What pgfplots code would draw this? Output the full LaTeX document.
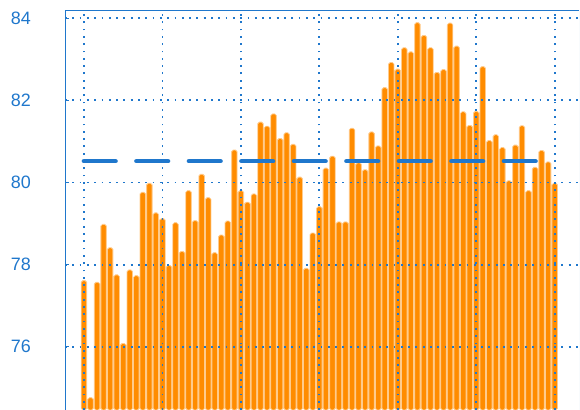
\documentclass[border=0pt]{standalone}
\usepackage{pgfplots}
\pgfplotsset{compat=1.18}
\usepackage{fontspec}
\setmainfont{Liberation Sans}
\definecolor{cblue}{RGB}{31,119,204}
\definecolor{corange}{RGB}{255,140,0}
\begin{document}
\begin{tikzpicture}
\begin{axis}[
  at={(0,0)}, anchor=north west,
  scale only axis, width=514bp, height=400bp,
  xmin=-2.905, xmax=75.72, ymin=74.46, ymax=84.2,
  set layers, axis on top,
  axis line style={draw=none},
  xtick={0,12,...,72}, xticklabels={},
  xtick style={draw=none},
  ytick={76,78,80,82,84}, ytick pos=left,
  ytick style={draw=cblue, line width=1.2bp},
  major tick length=4bp,
  tick align=inside,
  grid=major,
  major grid style={draw=cblue, line width=1.8bp, dash pattern=on 1.8bp off 5.5bp, line cap=butt},
  /pgf/number format/assume math mode=true,
  yticklabel style={font=\fontsize{18}{18}\selectfont, text=cblue, inner sep=0pt, anchor=east, xshift=-34bp},
]
\addplot[ybar, bar width=0.84, fill=corange, draw=corange!45!white, line width=0.8bp, rounded corners=1.6bp] coordinates {
(0,77.61) (1,74.76) (2,77.57) (3,78.98) (4,78.41) (5,77.75) (6,76.08) (7,77.87) (8,77.73) (9,79.76)
(10,79.98) (11,79.26) (12,79.12) (13,77.98) (14,79.02) (15,78.32) (16,79.80) (17,79.07) (18,80.20) (19,79.63)
(20,78.29) (21,78.72) (22,79.06) (23,80.79) (24,79.80) (25,79.52) (26,79.72) (27,81.47) (28,81.37) (29,81.67)
(30,81.07) (31,81.21) (32,80.93) (33,80.13) (34,77.91) (35,78.77) (36,79.41) (37,80.35) (38,80.64) (39,79.04)
(40,79.04) (41,81.32) (42,80.48) (43,80.31) (44,81.23) (45,80.89) (46,82.31) (47,82.92) (48,82.76) (49,83.28)
(50,83.18) (51,83.89) (52,83.58) (53,83.28) (54,82.68) (55,82.75) (56,83.88) (57,83.32) (58,81.72) (59,81.39)
(60,81.73) (61,82.82) (62,81.02) (63,81.16) (64,80.85) (65,80.04) (66,80.91) (67,81.38) (68,79.80) (69,80.37)
(70,80.78) (71,80.50) (72,79.98)
};
\addplot[cblue, line width=4.7bp, dash pattern=on 31.5bp off 21bp, line cap=round, on layer=axis foreground] coordinates {(0,80.52) (72,80.52)};
\draw[cblue, line width=2.4bp] (rel axis cs:0,0) -- (rel axis cs:0,1);
\draw[cblue, line width=2bp] (rel axis cs:0,1) -- (rel axis cs:1,1);
\draw[cblue!25!white, line width=1bp] (rel axis cs:1,0) -- (rel axis cs:1,1);
\coordinate (tl) at (rel axis cs:0,1);
\coordinate (br) at (rel axis cs:1,0);
\end{axis}
\pgfresetboundingbox
\path ([xshift=-65bp,yshift=10bp]tl) rectangle ([xshift=1bp]br);
\end{tikzpicture}
\end{document}
